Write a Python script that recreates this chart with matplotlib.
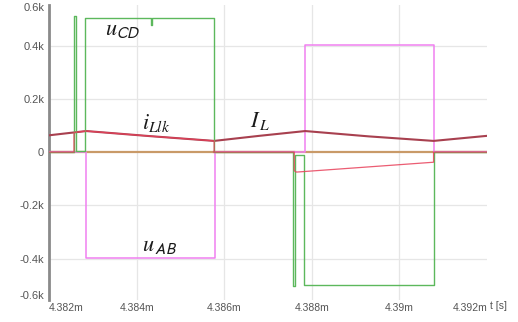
import numpy as np
import matplotlib
matplotlib.use("Agg")
import matplotlib.pyplot as plt

plt.rcParams["mathtext.fontset"] = "stix"
plt.rcParams["font.family"] = ["Liberation Sans", "DejaVu Sans"]

# time origin 4.382 ms; waveform times in microseconds after it
T0_MS = 4.382

# u_CD (green), volts
t_ucd = [0.0, 0.57, 0.57, 0.61, 0.61, 0.82, 0.82, 2.33, 2.33, 2.35, 2.35, 3.77, 3.77,
         5.58, 5.58, 5.62, 5.62, 5.82, 5.82, 8.78, 8.78, 10.0]
v_ucd = [0, 0, 510, 510, 5, 5, 502, 502, 476, 476, 502, 502, 0,
         0, -503, -503, -11, -11, -499, -499, 0, 0]

# u_AB (magenta), volts
t_uab = [0.0, 0.845, 0.845, 3.79, 3.79, 5.84, 5.84, 8.79, 8.79, 10.0]
v_uab = [0, 0, -398, -398, 0, 0, 401, 401, 0, 0]

# I_L (dark red), amps
t_il = [0.0, 0.85, 2.3, 3.77, 4.8, 5.85, 7.3, 8.78, 10.0]
v_il = [63, 79, 60, 42, 61, 79, 59, 42, 61]

# i_Llk (red), amps
t_ilk = [0.0, 0.57, 0.57, 0.85, 2.3, 3.77, 3.77, 5.6, 5.6, 5.65, 8.78, 8.78, 10.0]
v_ilk = [0, 0, 74, 79, 60, 42, 0, 0, -70, -75, -38, 0, 0]

xticks_ms = [4.382, 4.384, 4.386, 4.388, 4.390, 4.392]
xtick_labels = ["4.382m", "4.384m", "4.386m", "4.388m", "4.39m", "4.392m"]
ygrid = [-400, -200, 200, 400]
yticks = [-537, -400, -200, 0, 200, 400, 544]
ytick_labels = ["-0.6k", "-0.4k", "-0.2k", "0", "0.2k", "0.4k", "0.6k"]


def ms(t_us):
    return T0_MS + np.asarray(t_us) / 1000.0


fig = plt.figure(figsize=(5.18, 3.22), dpi=100)
ax = fig.add_axes([49 / 518, 22 / 322, 438 / 518, 295 / 322])

for g in ygrid:
    ax.axhline(g, color="#e6e6e6", lw=0.9, zorder=0)
for x in xticks_ms[1:-1]:
    ax.axvline(x, color="#e6e6e6", lw=0.9, zorder=0)

# zero-level trace, shaded red where i_Llk sits at zero
tz = np.linspace(0, 10, 1001)
ilk_interp = np.interp(tz, t_ilk, v_ilk)
ax.plot(ms(tz), np.zeros_like(tz), color="#c99a68", lw=1.6, zorder=1)
ax.plot(ms(tz), np.where(np.abs(ilk_interp) < 1, 0.0, np.nan),
        color="#c96a6a", lw=1.6, zorder=2)

ax.plot(ms(t_uab), v_uab, color="#f080f0", lw=1.1, zorder=3)
ax.plot(ms(t_ucd), v_ucd, color="#5cb85c", lw=1.0, zorder=4)
ax.plot(ms(t_il), v_il, color="#a8404f", lw=1.5, zorder=3)
ax.plot(ms(t_ilk), v_ilk, color="#e8405a", lw=0.9, alpha=0.85, zorder=4)

lab = dict(color="#1a1a1a", fontsize=16, va="baseline", ha="left")
ax.text(ms(1.28), 439, r"$u_{\mathsf{CD}}$", **lab)
ax.text(ms(2.12), 88, r"$i_{Llk}$", **lab)
ax.text(ms(4.59), 94, r"$I_{\,L}$", **lab)
ax.text(ms(2.12), -372, r"$u_{\,\mathsf{AB}}$", **lab)

ax.set_xlim(xticks_ms[0], xticks_ms[-1])
ax.set_ylim(-555, 552)
ax.set_xticks(xticks_ms)
ax.set_xticklabels(xtick_labels)
ax.set_yticks(yticks)
ax.set_yticklabels(ytick_labels)
ax.tick_params(length=0, labelsize=8, colors="#555555")
ax.tick_params(axis="x", pad=2, labelsize=7.5)
tl = ax.get_xticklabels()
tl[0].set_ha("left")
tl[-1].set_ha("right")
for s in ["top", "right", "bottom"]:
    ax.spines[s].set_visible(False)
ax.spines["left"].set_color("#8a8a8a")
ax.spines["left"].set_linewidth(2)
fig.text(490 / 518, 1 - 306 / 322, "t [s]", fontsize=7.5, color="#555555", va="center")

fig.savefig("out.png", dpi=100)
